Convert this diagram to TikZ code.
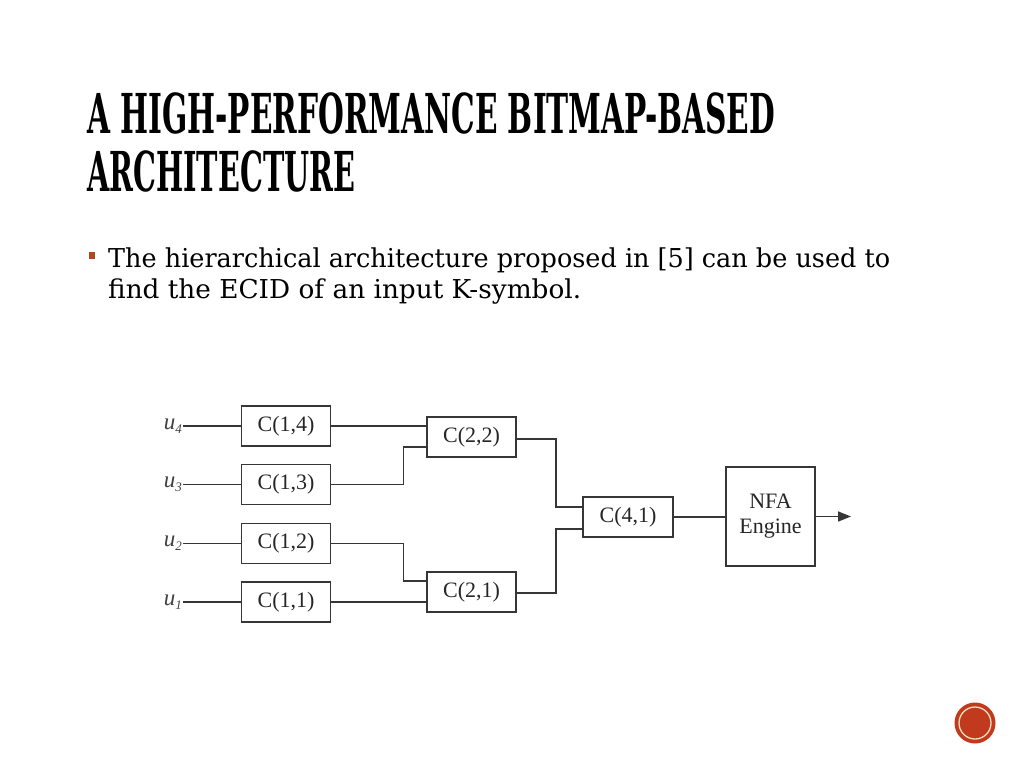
\documentclass[tikz,border=0pt]{standalone}
\usepackage{fontspec}
\usepackage{graphicx}
\setmainfont{Liberation Serif}
\newfontfamily\titlefont{DejaVu Serif}
\newfontfamily\bodyfont{DejaVu Serif}
\usetikzlibrary{arrows.meta,calc}
\definecolor{accent}{HTML}{C13A1E}
\definecolor{ringc}{HTML}{F2DFC0}
\definecolor{bulletc}{HTML}{B5471E}
\definecolor{wirec}{HTML}{363636}
\newcommand{\ulab}[1]{{\itshape u}\raisebox{-4pt}{\fontsize{13}{14}\selectfont\itshape #1}}
\begin{document}
\begin{tikzpicture}[x=1pt,y=-1pt,
  box/.style={draw=wirec, line width=1.5pt, minimum width=89pt, minimum height=40pt, inner sep=0pt,
              text=black!85, font=\fontsize{22}{24}\selectfont},
  wire/.style={draw=wirec, line width=1.5pt},
  lab/.style={anchor=east, inner sep=1pt, text=black!75, font=\fontsize{23}{25}\selectfont}]
\path[fill=white] (0,0) rectangle (1024,768);
\useasboundingbox (0,0) rectangle (1024,768);

% title
\node[anchor=north west, inner sep=0pt] (t1) at (87,92)
  {\resizebox{688pt}{\height}{\titlefont\bfseries\fontsize{55}{60}\selectfont A HIGH-PERFORMANCE BITMAP-BASED}};
\node[anchor=north west, inner sep=0pt] (t2) at (87,150)
  {\resizebox{268pt}{\height}{\titlefont\bfseries\fontsize{55}{60}\selectfont ARCHITECTURE}};

% bullet text
\fill[bulletc] (89,252) rectangle (95,259);
\node[anchor=base west, inner sep=0pt] (b1) at (108,267)
  {\resizebox{782pt}{\height}{\bodyfont\fontsize{26}{30}\selectfont The hierarchical architecture proposed in [5] can be used to}};
\node[anchor=base west, inner sep=0pt] (b2) at (108,298)
  {\resizebox{473pt}{\height}{\bodyfont\fontsize{26}{30}\selectfont find the ECID of an input K-symbol.}};

% diagram boxes
\node[box] (c14) at (286,426) {C(1,4)};
\node[box] (c13) at (286,484.5) {C(1,3)};
\node[box] (c12) at (286,543.5) {C(1,2)};
\node[box] (c11) at (286,602) {C(1,1)};
\node[box] (c22) at (471.5,437) {C(2,2)};
\node[box] (c21) at (471.5,592) {C(2,1)};
\node[box, minimum width=90pt] (c41) at (628,517) {C(4,1)};
\node[box, minimum height=99pt, align=center, font=\fontsize{22}{25}\selectfont] (nfa) at (770.5,516.5) {NFA\\Engine};

% inputs
\node[lab] (u4) at (183,426) {\ulab{4}};
\node[lab] (u3) at (183,484.5) {\ulab{3}};
\node[lab] (u2) at (183,543.5) {\ulab{2}};
\node[lab] (u1) at (183,602) {\ulab{1}};
\draw[wire] (u4.east) -- (c14.west);
\draw[wire] (u3.east) -- (c13.west);
\draw[wire] (u2.east) -- (c12.west);
\draw[wire] (u1.east) -- (c11.west);

% level 1 -> level 2
\draw[wire] (c14.east) -- (c14.east -| c22.west);
\draw[wire] (c13.east) -- ++(72,0) |- ($(c22.west)+(0,10)$);
\draw[wire] (c12.east) -- ++(72,0) |- ($(c21.west)+(0,-11)$);
\draw[wire] (c11.east) -- (c11.east -| c21.west);

% level 2 -> level 3
\draw[wire] ($(c22.east)+(0,2)$) -- ++(39,0) |- ($(c41.west)+(0,-10)$);
\draw[wire] ($(c21.east)+(0,1)$) -- ++(39,0) |- ($(c41.west)+(0,12)$);

% to NFA and output
\draw[wire] (c41.east) -- (c41.east -| nfa.west);
\coordinate (out) at (851,516.5);
\draw[wire, -{Triangle[length=13pt,width=10pt]}] (nfa.east) -- (out);

% page badge
\fill[accent] (975,723) circle (20.5);
\draw[ringc, line width=1.3pt] (975,723) circle (16);
\end{tikzpicture}
\end{document}
